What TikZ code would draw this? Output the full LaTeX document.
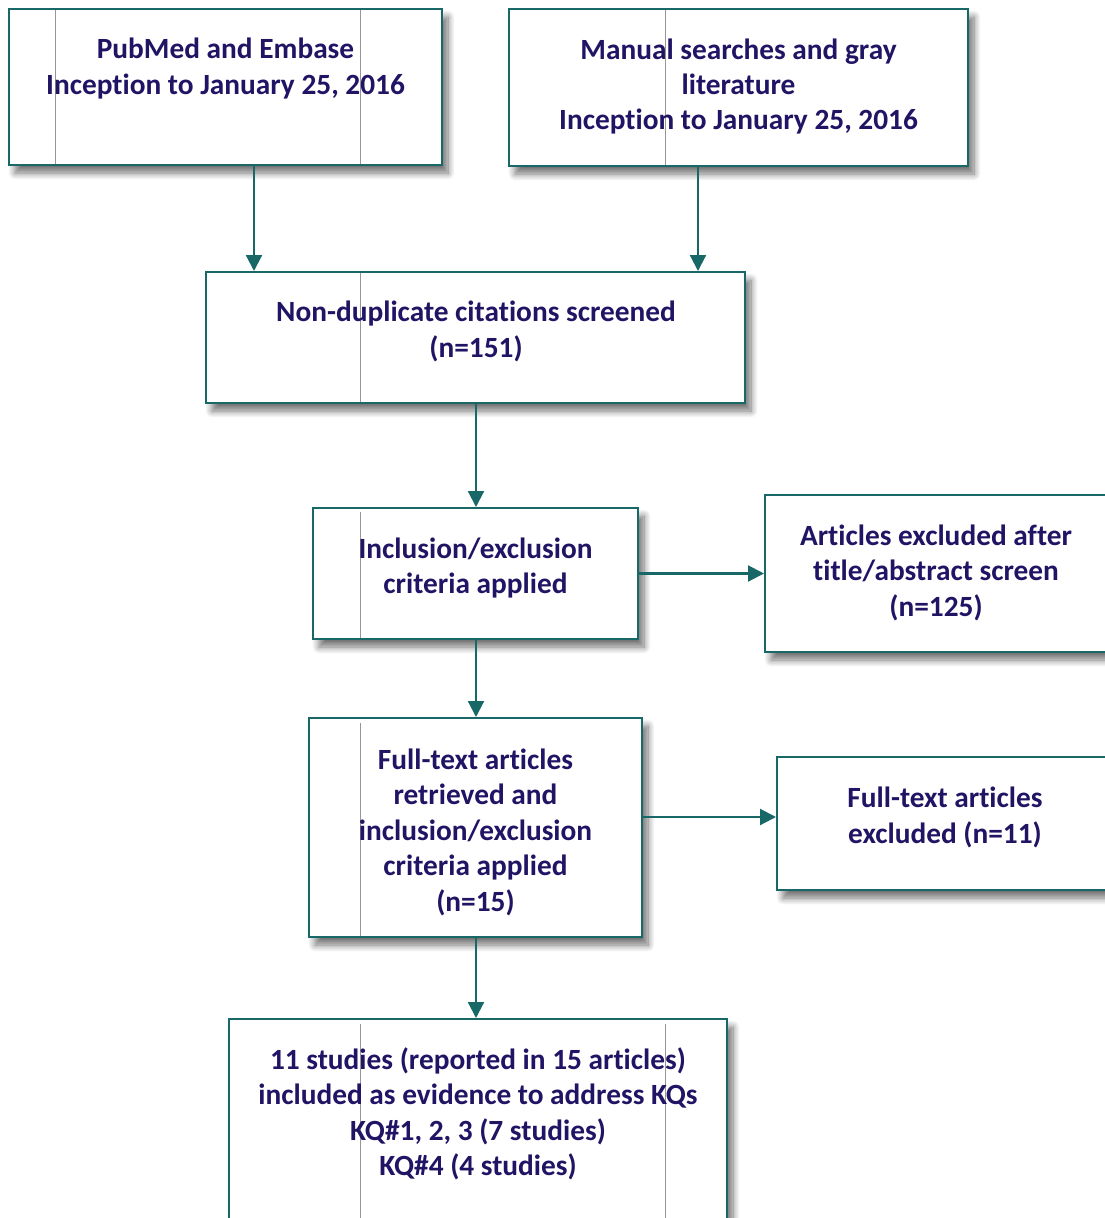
\documentclass[tikz,border=0pt]{standalone}
\usepackage{fontspec}
\setmainfont[Ligatures=NoCommon]{Carlito}
\usetikzlibrary{arrows.meta,fit,shadows.blur}
\definecolor{tealb}{RGB}{24,104,104}
\definecolor{navyt}{RGB}{32,20,100}
\definecolor{artg}{RGB}{150,150,150}
\begin{document}
\begin{tikzpicture}[x=0.75pt,y=-0.75pt,
  box/.style={draw=tealb,line width=1.5pt,fill=white,inner sep=0pt,
    blur shadow={shadow xshift=4.5pt,shadow yshift=-6pt,shadow blur steps=10,shadow blur radius=5pt,shadow opacity=55,shadow blur extra rounding=0pt}},
  txt/.style={text=navyt,font=\bfseries\fontsize{22}{26.6}\selectfont,align=center,inner sep=0pt},
  conn/.style={draw=tealb,line width=1.6pt,-{Triangle[length=12pt,width=12pt]}},
  artline/.style={draw=artg,line width=0.7pt}]
\useasboundingbox (0,0) rectangle (1105,1218);
% boxes
\node[box,fit={(9,9) (442,165)}] (b1) {};
\node[box,fit={(509,9) (968,166)}] (b2) {};
\node[box,fit={(206,272) (745,403)}] (b3) {};
\node[box,fit={(313,508) (638,639)}] (b4) {};
\node[box,fit={(765,495) (1107,652)}] (b5) {};
\node[box,fit={(309,718) (642,937)}] (b6) {};
\node[box,fit={(777,757) (1113,890)}] (b7) {};
\node[box,fit={(229,1019) (727,1240)}] (b8) {};
% artefact lines
\draw[artline] (55,10) -- (55,164);
\draw[artline] (360,10) -- (360,164);
\draw[artline] (665,10) -- (665,165);
\draw[artline] (360,273) -- (360,402);
\draw[artline] (360,512) -- (360,638);
\draw[artline] (360,723) -- (360,936);
\draw[artline] (360,1024) -- (360,1218);
\draw[artline] (665,1024) -- (665,1218);
% texts
\node[txt] (t1) at (225.5,68.5) {PubMed and Embase\\Inception to January 25, 2016};
\node[txt] (t2) at (738.5,86.5) {Manual searches and gray\\literature\\Inception to January 25, 2016};
\node[txt] (t3) at (476,331.5) {Non-duplicate citations screened\\(n=151)};
\node[txt] (t4) at (475.5,568) {Inclusion/exclusion\\criteria applied};
\node[txt] (t5) at (936,572.5) {Articles excluded after\\title/abstract screen\\(n=125)};
\node[txt] (t6) at (475.5,832) {Full-text articles\\retrieved and\\inclusion/exclusion\\criteria applied\\(n=15)};
\node[txt] (t7) at (945,817.5) {Full-text articles\\excluded (n=11)};
\node[txt] (t8) at (478,1114) {11 studies (reported in 15 articles)\\included as evidence to address KQs\\KQ\#1, 2, 3 (7 studies)\\KQ\#4 (4 studies)};
% connectors
\coordinate (x1) at (254,0);
\coordinate (x2) at (698,0);
\coordinate (xc) at (476,0);
\draw[conn] (b1.south -| x1) -- (b3.north -| x1);
\draw[conn] (b2.south -| x2) -- (b3.north -| x2);
\draw[conn] (b3.south -| xc) -- (b4.north -| xc);
\draw[conn] (b4.east) -- (b5.west |- b4.east);
\draw[conn] (b4.south -| xc) -- (b6.north -| xc);
\coordinate (y6) at (0,817);
\draw[conn] (b6.east |- y6) -- (b7.west |- y6);
\draw[conn] (b6.south -| xc) -- (b8.north -| xc);
\end{tikzpicture}
\end{document}
